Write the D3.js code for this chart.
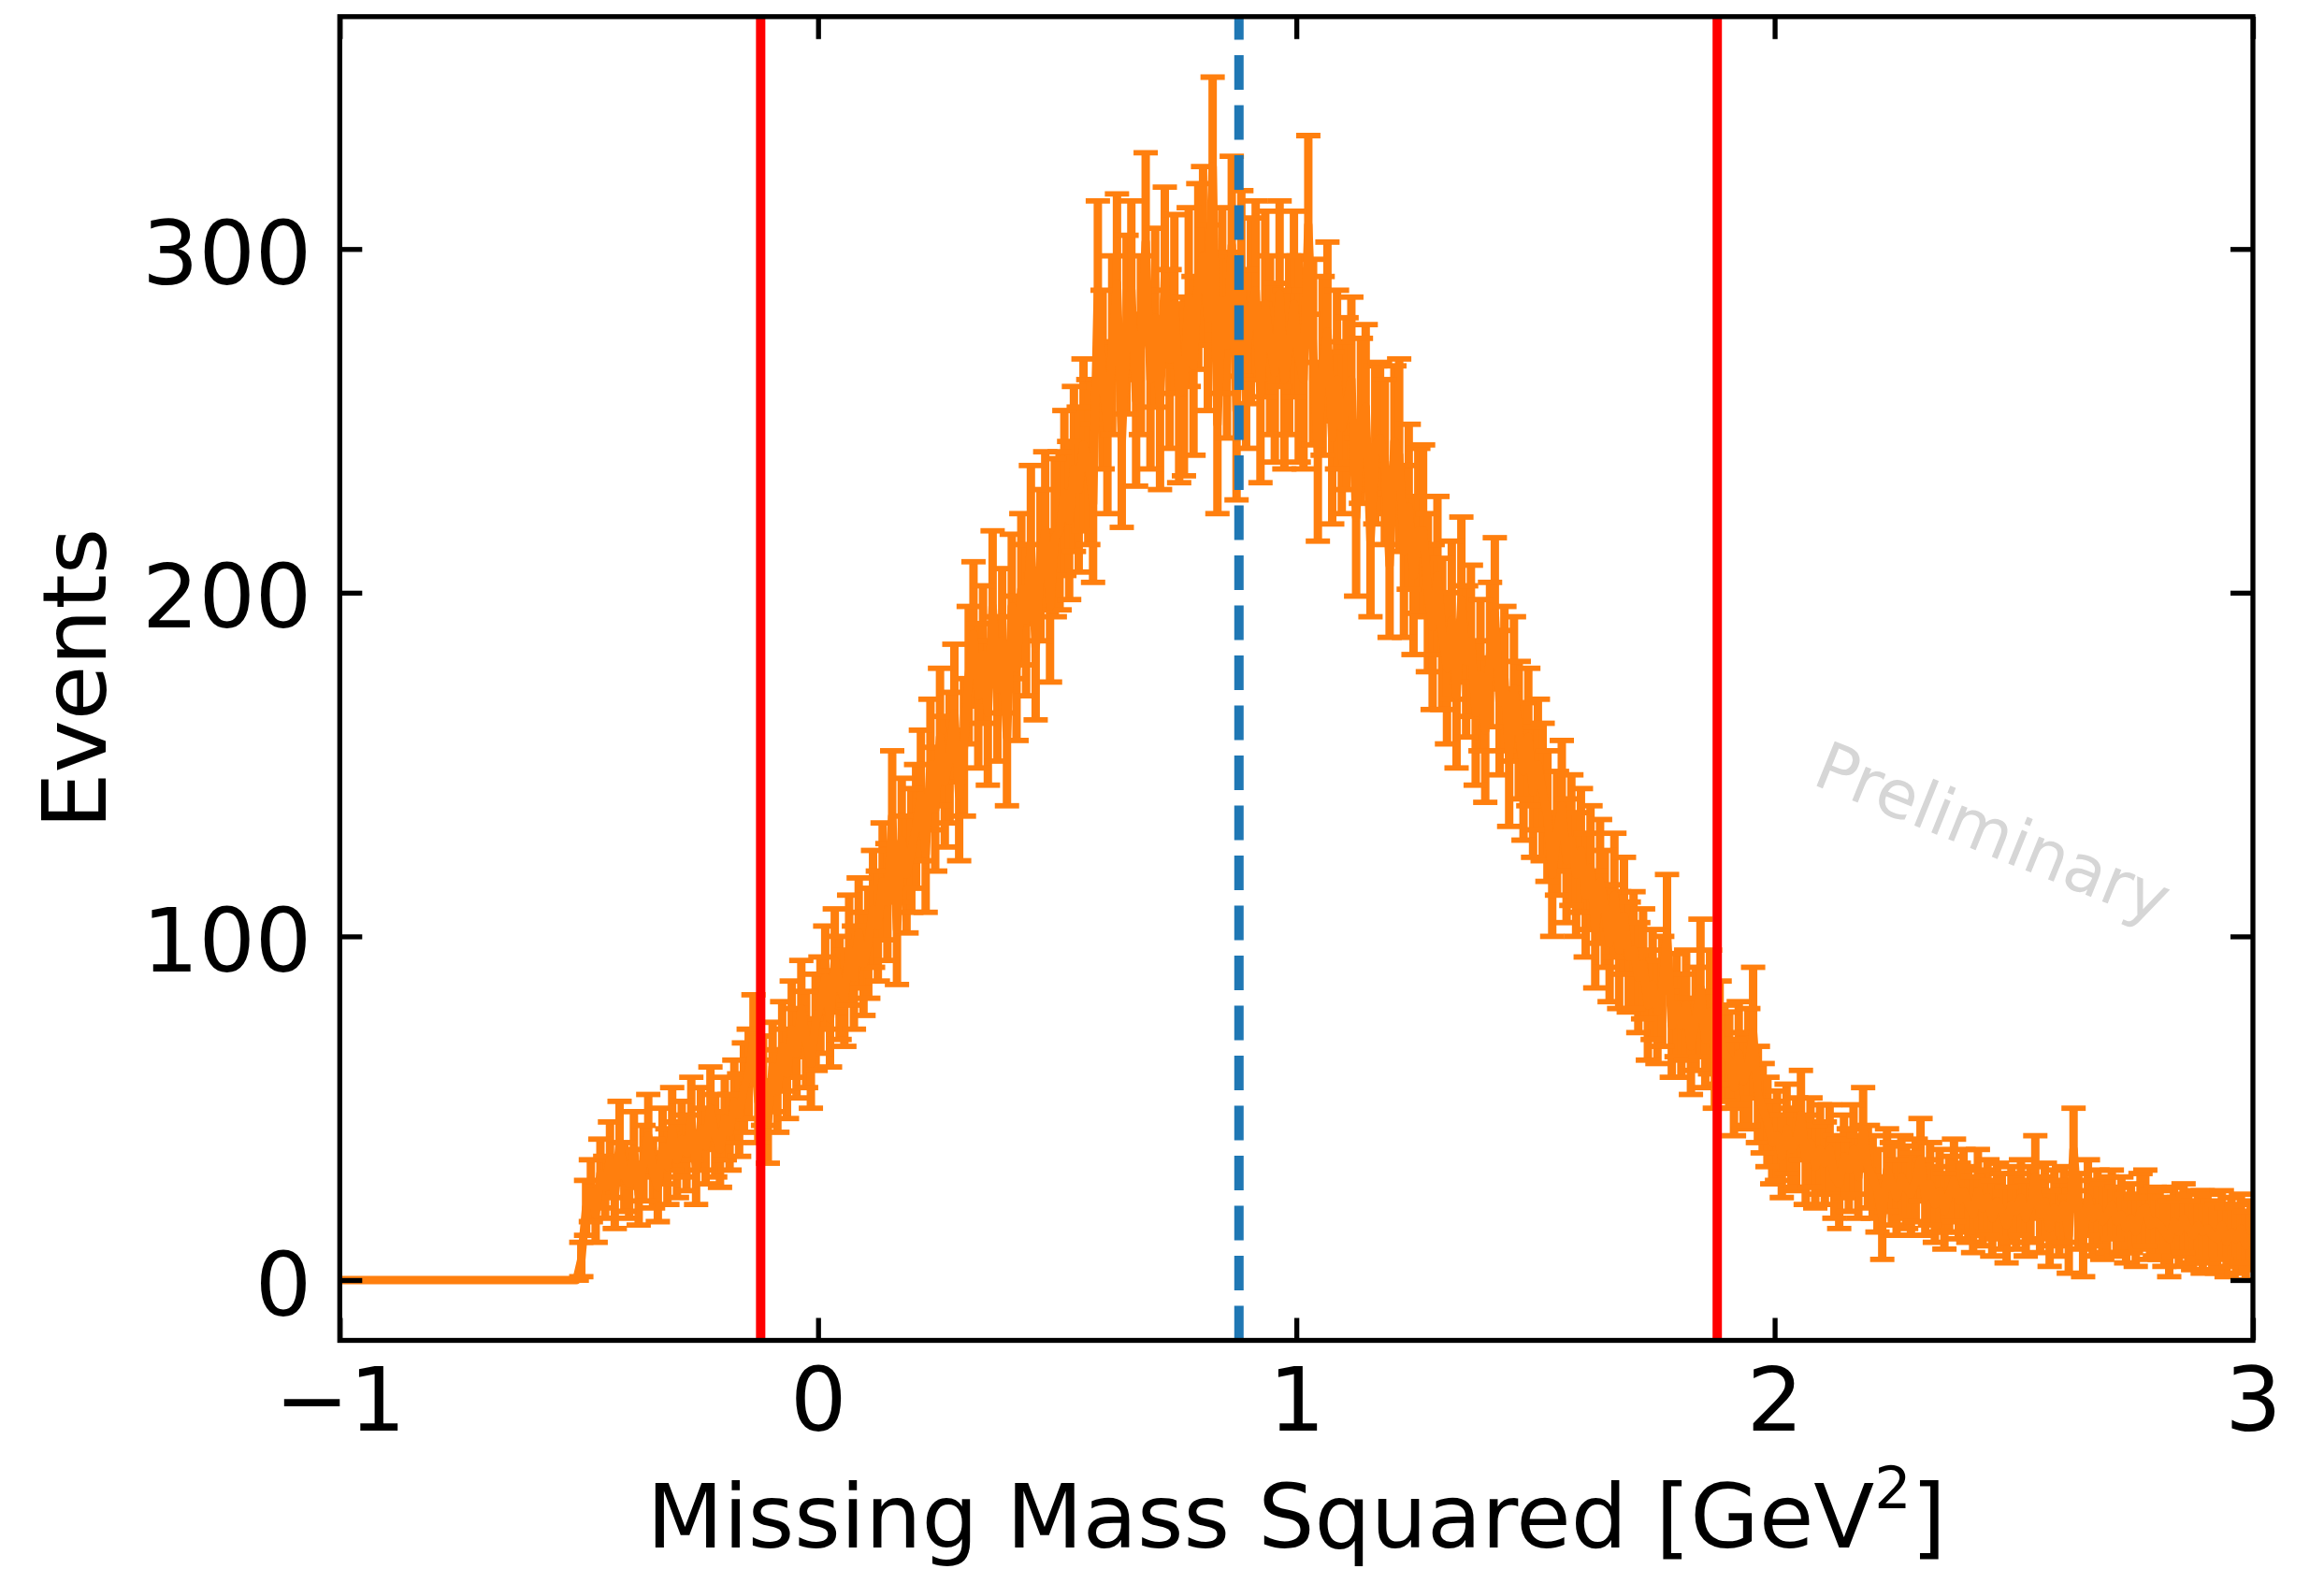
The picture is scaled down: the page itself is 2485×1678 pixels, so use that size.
<!DOCTYPE html>
<html>
<head>
<meta charset="utf-8">
<script src="https://cdn.jsdelivr.net/npm/d3@7"></script>
<style>
html,body{margin:0;padding:0;background:#fff;}
svg{display:block;}
</style>
</head>
<body>
<svg id="chart" width="2485" height="1678"></svg>
<script>
// ---------------- data ----------------
const binStart = -1;
const binWidth = 0.01;
// bins from -1.00 to -0.50 : empty
const zeroCounts = [0,0,0,0,0,0,0,0,0,0, 0,0,0,0,0,0,0,0,0,0, 0,0,0,0,0,0,0,0,0,0, 0,0,0,0,0,0,0,0,0,0, 0,0,0,0,0,0,0,0,0,0];
const zeroErrors = [0,0,0,0,0,0,0,0,0,0, 0,0,0,0,0,0,0,0,0,0, 0,0,0,0,0,0,0,0,0,0, 0,0,0,0,0,0,0,0,0,0, 0,0,0,0,0,0,0,0,0,0];
// bins from -0.50 to 3.00
const counts = [
  6, 21, 26, 19, 31, 27, 35, 24, 40, 30,
  28, 38, 25, 34, 42, 31, 27, 39, 33, 44,
  35, 41, 37, 47, 32, 44, 39, 50, 42, 38,
  47, 43, 52, 48, 56, 60, 70, 52, 58, 46,
  62, 55, 68, 60, 73, 66, 79, 70, 63, 75,
  80, 88, 76, 93, 85, 82, 96, 88, 101, 92,
  98, 108, 103, 116, 110, 135, 102, 128, 118, 125,
  132, 141, 124, 150, 137, 158, 145, 152, 165, 141,
  155, 176, 188, 170, 182, 165, 196, 172, 186, 158,
  196, 178, 201, 192, 214, 184, 208, 218, 196, 216,
  218, 229, 221, 236, 230, 243, 238, 226, 288, 262,
  248, 272, 290, 244, 278, 288, 256, 272, 302, 262,
  280, 255, 292, 268, 284, 258, 260, 286, 266, 292,
  298, 280, 324, 249, 285, 272, 301, 253, 290, 268,
  282, 288, 258, 284, 272, 264, 287, 262, 272, 284,
  268, 262, 307, 270, 241, 266, 276, 245, 262, 248,
  255, 262, 222, 250, 254, 215, 243, 245, 238, 208,
  244, 240, 212, 225, 205, 218, 218, 200, 190, 205,
  188, 178, 192, 170, 198, 180, 186, 165, 176, 160,
  182, 194, 168, 175, 152, 172, 160, 148, 158, 142,
  150, 142, 135, 118, 130, 138, 122, 128, 118, 125,
  112, 120, 102, 116, 108, 98, 112, 96, 106, 94,
  96, 88, 92, 80, 86, 78, 84, 101, 74, 80,
  74, 80, 68, 76, 85, 70, 78, 64, 72, 66,
  64, 56, 66, 58, 62, 72, 54, 50, 46, 40,
  42, 36, 44, 38, 40, 48, 35, 40, 33, 38,
  34, 38, 30, 28, 36, 32, 38, 30, 44, 33,
  30, 26, 18, 32, 28, 24, 30, 27, 25, 29,
  35, 24, 28, 22, 26, 20, 25, 29, 23, 26,
  22, 19, 26, 21, 24, 18, 23, 20, 16, 22,
  20, 24, 18, 22, 30, 19, 23, 15, 21, 18,
  22, 13, 38, 20, 12, 24, 18, 21, 17, 19,
  22, 17, 19, 15, 18, 14, 20, 21, 16, 17,
  16, 14, 12, 17, 14, 18, 15, 13, 16, 14,
  15, 13, 12, 16, 11, 14, 12, 15, 10, 13
];
const errors = [
  5, 8, 9, 8, 10, 9, 11, 9, 12, 10,
  10, 11, 9, 11, 12, 10, 10, 11, 11, 12,
  11, 11, 11, 12, 10, 12, 11, 12, 12, 11,
  12, 11, 12, 12, 13, 13, 13, 12, 13, 12,
  13, 12, 13, 13, 14, 13, 14, 14, 13, 14,
  14, 15, 14, 15, 15, 14, 16, 15, 16, 15,
  16, 17, 16, 17, 17, 19, 16, 18, 17, 18,
  18, 19, 17, 19, 18, 20, 19, 19, 20, 19,
  20, 20, 21, 21, 20, 21, 22, 21, 21, 20,
  21, 21, 22, 22, 23, 21, 22, 23, 22, 23,
  23, 24, 23, 24, 24, 25, 24, 23, 26, 26,
  25, 26, 26, 25, 26, 26, 25, 26, 26, 26,
  26, 25, 26, 26, 26, 26, 26, 26, 26, 27,
  26, 27, 26, 26, 27, 27, 26, 26, 27, 26,
  27, 26, 26, 27, 26, 26, 27, 26, 26, 27,
  30, 26, 26, 27, 26, 26, 26, 25, 26, 25,
  25, 24, 23, 24, 24, 22, 23, 22, 24, 21,
  22, 28, 25, 24, 23, 24, 25, 23, 24, 23,
  22, 22, 23, 21, 24, 22, 22, 21, 22, 21,
  21, 22, 21, 21, 20, 21, 20, 20, 20, 19,
  19, 20, 19, 18, 18, 19, 18, 19, 18, 18,
  18, 18, 17, 18, 17, 17, 18, 17, 17, 16,
  17, 16, 16, 16, 16, 15, 16, 17, 15, 15,
  15, 16, 14, 15, 20, 14, 18, 14, 15, 14,
  14, 14, 15, 14, 17, 19, 14, 13, 13, 12,
  13, 12, 13, 12, 13, 13, 13, 13, 12, 13,
  12, 13, 12, 13, 12, 12, 13, 12, 12, 12,
  12, 12, 12, 12, 12, 11, 12, 12, 12, 12,
  12, 11, 12, 11, 12, 11, 11, 12, 11, 12,
  11, 11, 12, 11, 11, 11, 11, 11, 11, 11,
  11, 11, 11, 11, 12, 11, 11, 11, 11, 11,
  11, 11, 12, 11, 11, 11, 11, 11, 11, 11,
  10, 10, 11, 10, 10, 10, 11, 11, 10, 10,
  10, 10, 11, 10, 10, 10, 10, 10, 10, 12,
  10, 10, 10, 10, 10, 10, 10, 10, 10, 10
];
const xDomain = [-1, 3];
const yDomain = [-17.55, 367.6];
const xTicks = [-1, 0, 1, 2, 3];
const xTickLabels = ["\u22121", "0", "1", "2", "3"];
const yTicks = [0, 100, 200, 300];
const yTickLabels = ["0", "100", "200", "300"];
const cutLines = [-0.12, 1.88];
const centerLine = [0.88];
const xLabel = "Missing Mass Squared [GeV";
const xLabelSup = "2";
const xLabelEnd = "]";
const yLabel = "Events";
const watermark = "Preliminary";

// ---------------- layout ----------------
const W = 2485, H = 1678;
const m = {left: 363.3, right: 2409, top: 17.8, bottom: 1433.5};
const FONT = "'DejaVu Sans', 'Liberation Sans', sans-serif";
const FS = 95;
const ORANGE = "#ff7f0e";

const x = d3.scaleLinear().domain(xDomain).range([m.left, m.right]);
const y = d3.scaleLinear().domain(yDomain).range([m.bottom, m.top]);

const svg = d3.select("#chart");
svg.append("rect").attr("width", W).attr("height", H).attr("fill", "#fff");

svg.append("defs").append("clipPath").attr("id", "plotclip")
  .append("rect")
  .attr("x", m.left).attr("y", m.top)
  .attr("width", m.right - m.left).attr("height", m.bottom - m.top);

const allCounts = zeroCounts.concat(counts);
const allErrors = zeroErrors.concat(errors);
const data = allCounts.map((v, i) => ({
  x: binStart + (i + 0.5) * binWidth,
  v: v,
  e: allErrors[i]
}));

const plot = svg.append("g").attr("clip-path", "url(#plotclip)");

// watermark
svg.append("text")
  .attr("transform", "translate(1936,838) rotate(22)")
  .attr("font-family", FONT)
  .attr("font-size", 71)
  .attr("fill", "#d6d6d6")
  .text(watermark);

// error bars
plot.append("g").selectAll("line")
  .data(data.filter(d => d.e > 0))
  .join("line")
  .attr("x1", d => x(d.x)).attr("x2", d => x(d.x))
  .attr("y1", d => y(d.v - d.e)).attr("y2", d => y(d.v + d.e))
  .attr("stroke", ORANGE).attr("stroke-width", 9);

// caps
const capHalf = 13;
const caps = [];
data.forEach(d => { caps.push({x: d.x, y: d.v - d.e}); caps.push({x: d.x, y: d.v + d.e}); });
plot.append("g").selectAll("line")
  .data(caps)
  .join("line")
  .attr("x1", d => x(d.x) - capHalf).attr("x2", d => x(d.x) + capHalf)
  .attr("y1", d => y(d.y)).attr("y2", d => y(d.y))
  .attr("stroke", ORANGE).attr("stroke-width", 5.8);

// data line
plot.append("path")
  .datum(data)
  .attr("d", d3.line().x(d => x(d.x)).y(d => y(d.v)))
  .attr("fill", "none")
  .attr("stroke", ORANGE)
  .attr("stroke-width", 9)
  .attr("stroke-linejoin", "round");

// vertical lines
plot.selectAll("line.cut")
  .data(cutLines)
  .join("line").attr("class", "cut")
  .attr("x1", d => x(d)).attr("x2", d => x(d))
  .attr("y1", m.bottom).attr("y2", m.top)
  .attr("stroke", "#ff0000").attr("stroke-width", 10);

plot.selectAll("line.center")
  .data(centerLine)
  .join("line").attr("class", "center")
  .attr("x1", d => x(d)).attr("x2", d => x(d))
  .attr("y1", m.bottom).attr("y2", m.top)
  .attr("stroke", "#1f77b4").attr("stroke-width", 10)
  .attr("stroke-dasharray", "37,16.5");

// axes (inward ticks on all four sides)
const TICK = 24, TW = 5.3;
function styleAxis(g) {
  g.select(".domain").remove();
  g.selectAll(".tick line").attr("stroke", "#000").attr("stroke-width", TW);
  g.selectAll(".tick text").attr("font-family", FONT).attr("font-size", FS).attr("fill", "#000");
}

svg.append("g")
  .attr("transform", `translate(0,${m.bottom})`)
  .call(d3.axisBottom(x).tickValues(xTicks).tickSize(-TICK).tickPadding(29)
        .tickFormat((d, i) => xTickLabels[i]))
  .call(styleAxis)
  .call(g => g.selectAll(".tick text").attr("dy", null).attr("y", 96.5));

svg.append("g")
  .attr("transform", `translate(0,${m.top})`)
  .call(d3.axisTop(x).tickValues(xTicks).tickSize(-TICK).tickFormat(""))
  .call(styleAxis);

svg.append("g")
  .attr("transform", `translate(${m.left},0)`)
  .call(d3.axisLeft(y).tickValues(yTicks).tickSize(-TICK).tickPadding(30)
        .tickFormat((d, i) => yTickLabels[i]))
  .call(styleAxis)
  .call(g => g.selectAll(".tick text").attr("dy", "0.39em"));

svg.append("g")
  .attr("transform", `translate(${m.right},0)`)
  .call(d3.axisRight(y).tickValues(yTicks).tickSize(-TICK).tickFormat(""))
  .call(styleAxis);

// frame
svg.append("rect")
  .attr("x", m.left).attr("y", m.top)
  .attr("width", m.right - m.left).attr("height", m.bottom - m.top)
  .attr("fill", "none").attr("stroke", "#000").attr("stroke-width", TW);

// axis labels
const xl = svg.append("text")
  .attr("x", (m.left + m.right) / 2).attr("y", 1655)
  .attr("text-anchor", "middle")
  .attr("font-family", FONT).attr("font-size", FS).attr("fill", "#000");
xl.append("tspan").text(xLabel);
xl.append("tspan").attr("font-size", 62).attr("dy", -42).text(xLabelSup);
xl.append("tspan").attr("font-size", FS).attr("dy", 42).text(xLabelEnd);

svg.append("text")
  .attr("transform", `translate(113,${(m.top + m.bottom) / 2}) rotate(-90)`)
  .attr("text-anchor", "middle")
  .attr("font-family", FONT).attr("font-size", FS).attr("fill", "#000")
  .text(yLabel);
</script>
</body>
</html>
